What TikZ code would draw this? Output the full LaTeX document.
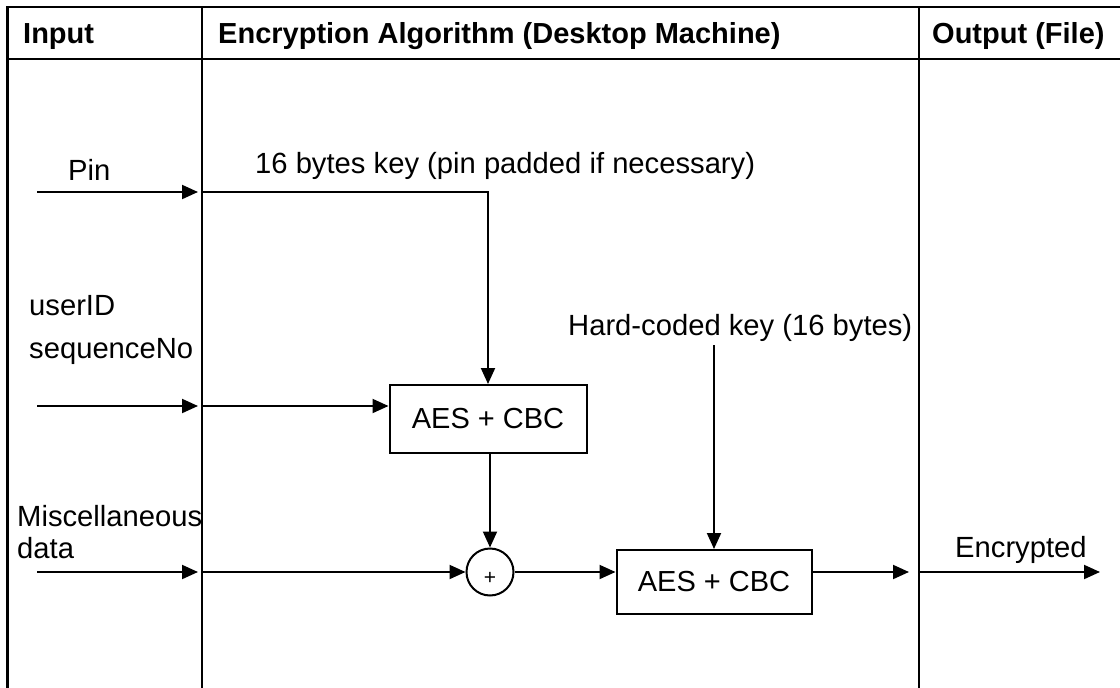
\documentclass[tikz,border=0pt]{standalone}
\usepackage{fontspec}
\setmainfont{Liberation Sans}
\usetikzlibrary{arrows.meta}
\begin{document}
\begin{tikzpicture}[x=1pt,y=-1pt,
  frame/.style={line width=2.4pt},
  conn/.style={line width=2pt},
  arr/.style={conn,-{Triangle[length=16pt,width=14pt]}},
  lbl/.style={inner sep=0pt,anchor=base west,font=\fontsize{29.2}{32}\selectfont},
  hdr/.style={lbl,font=\fontsize{29}{32}\selectfont\bfseries},
  aesbox/.style={draw,line width=2pt,minimum width=197pt,minimum height=68pt,inner sep=0pt,font=\fontsize{29}{32}\selectfont},
  xorc/.style={draw,circle,line width=2pt,minimum size=47pt,inner sep=0pt}]
\useasboundingbox (0,0) rectangle (1120,688);
% table frame
\draw[frame] (7.5,700) -- (7.5,7) -- (1125,7);
\draw[frame] (7.5,59) -- (1125,59);
\draw[frame] (202,7) -- (202,700);
\draw[frame] (919,7) -- (919,700);
% headers
\node[hdr] (hin) at (23,43) {Input};
\node[hdr] (halg) at (218,43) {Encryption Algorithm (Desktop Machine)};
\node[hdr] (hout) at (932,43) {Output (File)};
% labels
\node[lbl] (lpin) at (68,180) {Pin};
\node[lbl] (lkey) at (255,173) {16 bytes key (pin padded if necessary)};
\node[lbl] (luid) at (29,315) {userID};
\node[lbl] (lseq) at (29,358) {sequenceNo};
\node[lbl] (lhk) at (568,335) {Hard-coded key (16 bytes)};
\node[lbl] (lmisc) at (17,526) {Miscellaneous};
\node[lbl] (ldata) at (17,558) {data};
\node[lbl] (lenc) at (955,557) {Encrypted};
% blocks
\node[aesbox] (aes1) at (488,419) {AES + CBC};
\node[aesbox,minimum width=195pt,minimum height=64pt] (aes2) at (714,582) {AES + CBC};
\node[xorc] (xor) at (490,572) {};
\node[inner sep=0pt,font=\fontsize{21}{21}\selectfont] (plus) at (490,578) {+};
% coordinates
\coordinate (pinS) at (37,192);
\coordinate (pinD) at (202,192);
\coordinate (uidS) at (37,406);
\coordinate (uidD) at (202,406);
\coordinate (misS) at (37,572);
\coordinate (misD) at (202,572);
\coordinate (hkS) at (714,345);
\coordinate (outD) at (919,572);
\coordinate (outE) at (1100,572);
% connectors
\draw[arr,shorten >=4pt] (pinS) -- (pinD);
\draw[arr] (pinD) -| (aes1.north);
\draw[arr,shorten >=4pt] (uidS) -- (uidD);
\draw[arr] (uidD) -- (aes1.west |- uidD);
\draw[arr,shorten >=4pt] (misS) -- (misD);
\draw[arr] (misD) -- (xor.west);
\draw[arr] (aes1.south -| xor.north) -- (xor.north);
\draw[arr] (xor.east) -- (aes2.west |- xor.east);
\draw[arr] (hkS) -- (aes2.north);
\draw[arr,shorten >=10pt] (aes2.east |- outD) -- (outD);
\draw[arr] (outD) -- (outE);
\end{tikzpicture}
\end{document}
